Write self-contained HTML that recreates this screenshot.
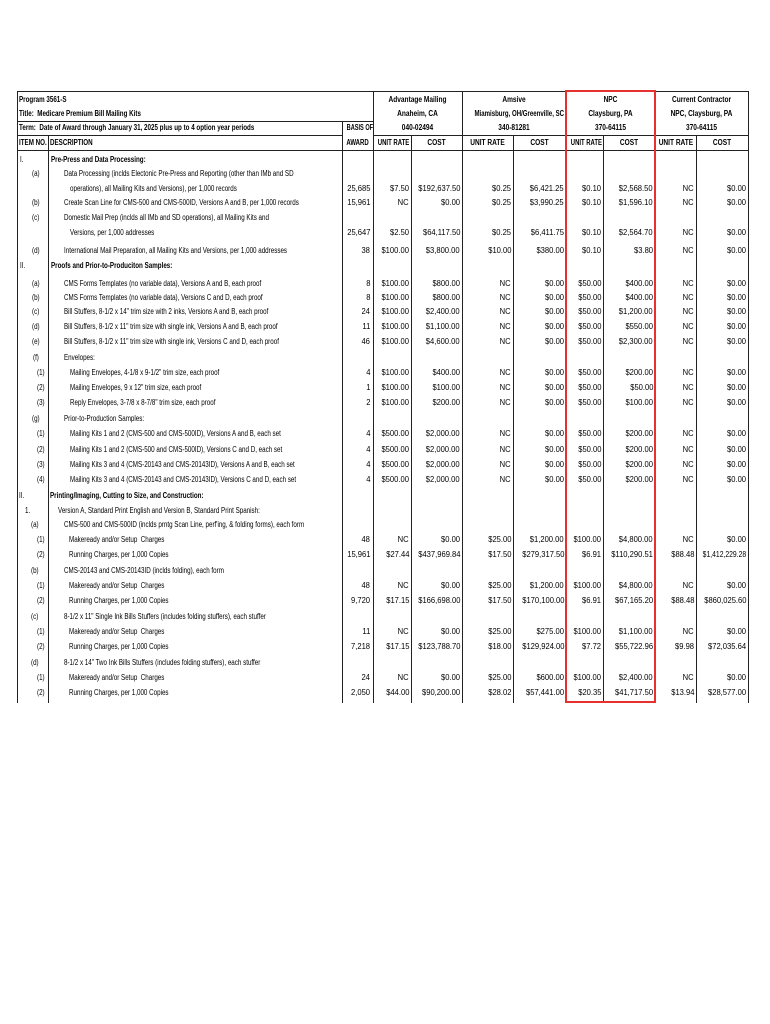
<!DOCTYPE html>
<html><head><meta charset="utf-8"><style>
body{margin:0;width:770px;height:1024px;background:#fff;position:relative;overflow:hidden}
.t{position:absolute;font-family:"Liberation Sans",sans-serif;font-size:8px;line-height:10px;white-space:nowrap;color:#000}
.l{transform:scaleX(.78);transform-origin:0 50%}
.r{transform:scaleX(.95);transform-origin:100% 50%;text-align:right}
.c{transform:scaleX(.82);transform-origin:50% 50%;text-align:center}
.b{font-weight:bold}
.h{position:absolute;height:1px;background:#222}
.v{position:absolute;width:1px;background:#222}
.red{position:absolute;border:2px solid #e8312f;box-sizing:border-box}
</style></head><body>
<div class="h" style="left:17px;top:91px;width:731px"></div>
<div class="h" style="left:17px;top:121px;width:356px"></div>
<div class="h" style="left:17px;top:135px;width:326px"></div>
<div class="h" style="left:373px;top:135px;width:375px"></div>
<div class="h" style="left:17px;top:150px;width:731px"></div>
<div class="v" style="left:17px;top:91px;height:612px"></div>
<div class="v" style="left:48px;top:135px;height:568px"></div>
<div class="v" style="left:342px;top:121px;height:582px"></div>
<div class="v" style="left:373px;top:91px;height:612px"></div>
<div class="v" style="left:411px;top:135px;height:568px"></div>
<div class="v" style="left:462px;top:91px;height:612px"></div>
<div class="v" style="left:513px;top:135px;height:568px"></div>
<div class="v" style="left:603px;top:135px;height:568px"></div>
<div class="v" style="left:696px;top:135px;height:568px"></div>
<div class="v" style="left:748px;top:91px;height:612px"></div>
<div class="red" style="left:565px;top:90px;width:91px;height:613px"></div>

<div class="t b l" style="left:19px;top:95px">Program 3561-S</div>
<div class="t b l" style="left:19px;top:109px">Title:&nbsp; Medicare Premium Bill Mailing Kits</div>
<div class="t b l" style="left:19px;top:123px">Term:&nbsp; Date of Award through January 31, 2025 plus up to 4 option year periods</div>
<div class="t b l" style="left:19px;top:138px">ITEM NO.</div>
<div class="t b l" style="left:50px;top:138px">DESCRIPTION</div>
<div class="t b c" style="left:342px;width:31px;top:123px;transform:scaleX(.7)">BASIS OF</div>
<div class="t b c" style="left:342px;width:31px;top:138px;transform:scaleX(.75)">AWARD</div>

<div class="t b c" style="left:373px;width:89px;top:95px">Advantage Mailing</div>
<div class="t b c" style="left:373px;width:89px;top:109px">Anaheim, CA</div>
<div class="t b c" style="left:373px;width:89px;top:123px">040-02494</div>
<div class="t b c" style="left:462px;width:104px;top:95px">Amsive</div>
<div class="t b c" style="left:462px;width:104px;top:109px;transform:scaleX(.76)">Miamisburg, OH/Greenville, SC</div>
<div class="t b c" style="left:462px;width:104px;top:123px">340-81281</div>
<div class="t b c" style="left:566px;width:89px;top:95px">NPC</div>
<div class="t b c" style="left:566px;width:89px;top:109px">Claysburg, PA</div>
<div class="t b c" style="left:566px;width:89px;top:123px">370-64115</div>
<div class="t b c" style="left:655px;width:93px;top:95px">Current Contractor</div>
<div class="t b c" style="left:655px;width:93px;top:109px">NPC, Claysburg, PA</div>
<div class="t b c" style="left:655px;width:93px;top:123px">370-64115</div>

<div class="t b c" style="left:373px;width:38px;top:138px;transform:scaleX(.75)">UNIT RATE</div>
<div class="t b c" style="left:411px;width:51px;top:138px">COST</div>
<div class="t b c" style="left:462px;width:51px;top:138px">UNIT RATE</div>
<div class="t b c" style="left:513px;width:53px;top:138px">COST</div>
<div class="t b c" style="left:566px;width:37px;top:138px;transform:scaleX(.74)">UNIT RATE</div>
<div class="t b c" style="left:603px;width:52px;top:138px">COST</div>
<div class="t b c" style="left:655px;width:41px;top:138px">UNIT RATE</div>
<div class="t b c" style="left:696px;width:52px;top:138px">COST</div>

<div class="t l" style="left:20px;top:155px">I.</div><div class="t b l" style="left:51px;top:155px">Pre-Press and Data Processing:</div>
<div class="t l" style="left:32px;top:169px">(a)</div><div class="t l" style="left:64px;top:169px">Data Processing (inclds Electonic Pre-Press and Reporting (other than IMb and SD</div>
<div class="t l" style="left:70px;top:184px">operations), all Mailing Kits and Versions), per 1,000 records</div>
<div class="t l" style="left:32px;top:198px">(b)</div><div class="t l" style="left:64px;top:198px">Create Scan Line for CMS-500 and CMS-500ID, Versions A and B, per 1,000 records</div>
<div class="t l" style="left:32px;top:213px">(c)</div><div class="t l" style="left:64px;top:213px">Domestic Mail Prep (inclds all IMb and SD operations), all Mailing Kits and</div>
<div class="t l" style="left:70px;top:228px">Versions, per 1,000 addresses</div>
<div class="t l" style="left:32px;top:246px">(d)</div><div class="t l" style="left:64px;top:246px">International Mail Preparation, all Mailing Kits and Versions, per 1,000 addresses</div>
<div class="t l" style="left:20px;top:261px">II.</div><div class="t b l" style="left:51px;top:261px">Proofs and Prior-to-Produciton Samples:</div>
<div class="t l" style="left:32px;top:279px">(a)</div><div class="t l" style="left:64px;top:279px">CMS Forms Templates (no variable data), Versions A and B, each proof</div>
<div class="t l" style="left:32px;top:293px">(b)</div><div class="t l" style="left:64px;top:293px">CMS Forms Templates (no variable data), Versions C and D, each proof</div>
<div class="t l" style="left:32px;top:307px">(c)</div><div class="t l" style="left:64px;top:307px">Bill Stuffers, 8-1/2 x 14" trim size with 2 inks, Versions A and B, each proof</div>
<div class="t l" style="left:32px;top:322px">(d)</div><div class="t l" style="left:64px;top:322px">Bill Stuffers, 8-1/2 x 11" trim size with single ink, Versions A and B, each proof</div>
<div class="t l" style="left:32px;top:337px">(e)</div><div class="t l" style="left:64px;top:337px">Bill Stuffers, 8-1/2 x 11" trim size with single ink, Versions C and D, each proof</div>
<div class="t l" style="left:33px;top:353px">(f)</div><div class="t l" style="left:64px;top:353px">Envelopes:</div>
<div class="t l" style="left:37px;top:368px">(1)</div><div class="t l" style="left:70px;top:368px">Mailing Envelopes, 4-1/8 x 9-1/2" trim size, each proof</div>
<div class="t l" style="left:37px;top:383px">(2)</div><div class="t l" style="left:70px;top:383px">Mailing Envelopes, 9 x 12" trim size, each proof</div>
<div class="t l" style="left:37px;top:398px">(3)</div><div class="t l" style="left:70px;top:398px">Reply Envelopes, 3-7/8 x 8-7/8" trim size, each proof</div>
<div class="t l" style="left:32px;top:414px">(g)</div><div class="t l" style="left:64px;top:414px">Prior-to-Production Samples:</div>
<div class="t l" style="left:37px;top:429px">(1)</div><div class="t l" style="left:70px;top:429px">Mailing Kits 1 and 2 (CMS-500 and CMS-500ID), Versions A and B, each set</div>
<div class="t l" style="left:37px;top:445px">(2)</div><div class="t l" style="left:70px;top:445px">Mailing Kits 1 and 2 (CMS-500 and CMS-500ID), Versions C and D, each set</div>
<div class="t l" style="left:37px;top:460px">(3)</div><div class="t l" style="left:70px;top:460px">Mailing Kits 3 and 4 (CMS-20143 and CMS-20143ID), Versions A and B, each set</div>
<div class="t l" style="left:37px;top:475px">(4)</div><div class="t l" style="left:70px;top:475px">Mailing Kits 3 and 4 (CMS-20143 and CMS-20143ID), Versions C and D, each set</div>
<div class="t l" style="left:19px;top:491px">II.</div><div class="t b l" style="left:50px;top:491px">Printing/Imaging, Cutting to Size, and Construction:</div>
<div class="t l" style="left:25px;top:506px">1.</div><div class="t l" style="left:58px;top:506px">Version A, Standard Print English and Version B, Standard Print Spanish:</div>
<div class="t l" style="left:31px;top:520px">(a)</div><div class="t l" style="left:64px;top:520px">CMS-500 and CMS-500ID (inclds prntg Scan Line, perf'ing, &amp; folding forms), each form</div>
<div class="t l" style="left:37px;top:535px">(1)</div><div class="t l" style="left:69px;top:535px">Makeready and/or Setup&nbsp; Charges</div>
<div class="t l" style="left:37px;top:550px">(2)</div><div class="t l" style="left:69px;top:550px">Running Charges, per 1,000 Copies</div>
<div class="t l" style="left:31px;top:566px">(b)</div><div class="t l" style="left:64px;top:566px">CMS-20143 and CMS-20143ID (inclds folding), each form</div>
<div class="t l" style="left:37px;top:581px">(1)</div><div class="t l" style="left:69px;top:581px">Makeready and/or Setup&nbsp; Charges</div>
<div class="t l" style="left:37px;top:596px">(2)</div><div class="t l" style="left:69px;top:596px">Running Charges, per 1,000 Copies</div>
<div class="t l" style="left:31px;top:612px">(c)</div><div class="t l" style="left:64px;top:612px">8-1/2 x 11" Single Ink Bills Stuffers (includes folding stuffers), each stuffer</div>
<div class="t l" style="left:37px;top:627px">(1)</div><div class="t l" style="left:69px;top:627px">Makeready and/or Setup&nbsp; Charges</div>
<div class="t l" style="left:37px;top:642px">(2)</div><div class="t l" style="left:69px;top:642px">Running Charges, per 1,000 Copies</div>
<div class="t l" style="left:31px;top:658px">(d)</div><div class="t l" style="left:64px;top:658px">8-1/2 x 14" Two Ink Bills Stuffers (includes folding stuffers), each stuffer</div>
<div class="t l" style="left:37px;top:673px">(1)</div><div class="t l" style="left:69px;top:673px">Makeready and/or Setup&nbsp; Charges</div>
<div class="t l" style="left:37px;top:688px">(2)</div><div class="t l" style="left:69px;top:688px">Running Charges, per 1,000 Copies</div>

<div style="position:absolute;left:0;top:184px;width:770px;height:10px">
<div class="t r" style="right:400px">25,685</div><div class="t r" style="right:361px">$7.50</div><div class="t r" style="right:310px">$192,637.50</div><div class="t r" style="right:259px">$0.25</div><div class="t r" style="right:206px">$6,421.25</div><div class="t r" style="right:169px">$0.10</div><div class="t r" style="right:117px">$2,568.50</div><div class="t r" style="right:76px">NC</div><div class="t r" style="right:24px">$0.00</div></div>
<div style="position:absolute;left:0;top:198px;width:770px;height:10px">
<div class="t r" style="right:400px">15,961</div><div class="t r" style="right:361px">NC</div><div class="t r" style="right:310px">$0.00</div><div class="t r" style="right:259px">$0.25</div><div class="t r" style="right:206px">$3,990.25</div><div class="t r" style="right:169px">$0.10</div><div class="t r" style="right:117px">$1,596.10</div><div class="t r" style="right:76px">NC</div><div class="t r" style="right:24px">$0.00</div></div>
<div style="position:absolute;left:0;top:228px;width:770px;height:10px">
<div class="t r" style="right:400px">25,647</div><div class="t r" style="right:361px">$2.50</div><div class="t r" style="right:310px">$64,117.50</div><div class="t r" style="right:259px">$0.25</div><div class="t r" style="right:206px">$6,411.75</div><div class="t r" style="right:169px">$0.10</div><div class="t r" style="right:117px">$2,564.70</div><div class="t r" style="right:76px">NC</div><div class="t r" style="right:24px">$0.00</div></div>
<div style="position:absolute;left:0;top:246px;width:770px;height:10px">
<div class="t r" style="right:400px">38</div><div class="t r" style="right:361px">$100.00</div><div class="t r" style="right:310px">$3,800.00</div><div class="t r" style="right:259px">$10.00</div><div class="t r" style="right:206px">$380.00</div><div class="t r" style="right:169px">$0.10</div><div class="t r" style="right:117px">$3.80</div><div class="t r" style="right:76px">NC</div><div class="t r" style="right:24px">$0.00</div></div>

<div style="position:absolute;left:0;top:279px;width:770px;height:10px">
<div class="t r" style="right:400px">8</div><div class="t r" style="right:361px">$100.00</div><div class="t r" style="right:310px">$800.00</div><div class="t r" style="right:259px">NC</div><div class="t r" style="right:206px">$0.00</div><div class="t r" style="right:169px">$50.00</div><div class="t r" style="right:117px">$400.00</div><div class="t r" style="right:76px">NC</div><div class="t r" style="right:24px">$0.00</div></div>
<div style="position:absolute;left:0;top:293px;width:770px;height:10px">
<div class="t r" style="right:400px">8</div><div class="t r" style="right:361px">$100.00</div><div class="t r" style="right:310px">$800.00</div><div class="t r" style="right:259px">NC</div><div class="t r" style="right:206px">$0.00</div><div class="t r" style="right:169px">$50.00</div><div class="t r" style="right:117px">$400.00</div><div class="t r" style="right:76px">NC</div><div class="t r" style="right:24px">$0.00</div></div>
<div style="position:absolute;left:0;top:307px;width:770px;height:10px">
<div class="t r" style="right:400px">24</div><div class="t r" style="right:361px">$100.00</div><div class="t r" style="right:310px">$2,400.00</div><div class="t r" style="right:259px">NC</div><div class="t r" style="right:206px">$0.00</div><div class="t r" style="right:169px">$50.00</div><div class="t r" style="right:117px">$1,200.00</div><div class="t r" style="right:76px">NC</div><div class="t r" style="right:24px">$0.00</div></div>
<div style="position:absolute;left:0;top:322px;width:770px;height:10px">
<div class="t r" style="right:400px">11</div><div class="t r" style="right:361px">$100.00</div><div class="t r" style="right:310px">$1,100.00</div><div class="t r" style="right:259px">NC</div><div class="t r" style="right:206px">$0.00</div><div class="t r" style="right:169px">$50.00</div><div class="t r" style="right:117px">$550.00</div><div class="t r" style="right:76px">NC</div><div class="t r" style="right:24px">$0.00</div></div>
<div style="position:absolute;left:0;top:337px;width:770px;height:10px">
<div class="t r" style="right:400px">46</div><div class="t r" style="right:361px">$100.00</div><div class="t r" style="right:310px">$4,600.00</div><div class="t r" style="right:259px">NC</div><div class="t r" style="right:206px">$0.00</div><div class="t r" style="right:169px">$50.00</div><div class="t r" style="right:117px">$2,300.00</div><div class="t r" style="right:76px">NC</div><div class="t r" style="right:24px">$0.00</div></div>

<div style="position:absolute;left:0;top:368px;width:770px;height:10px">
<div class="t r" style="right:400px">4</div><div class="t r" style="right:361px">$100.00</div><div class="t r" style="right:310px">$400.00</div><div class="t r" style="right:259px">NC</div><div class="t r" style="right:206px">$0.00</div><div class="t r" style="right:169px">$50.00</div><div class="t r" style="right:117px">$200.00</div><div class="t r" style="right:76px">NC</div><div class="t r" style="right:24px">$0.00</div></div>
<div style="position:absolute;left:0;top:383px;width:770px;height:10px">
<div class="t r" style="right:400px">1</div><div class="t r" style="right:361px">$100.00</div><div class="t r" style="right:310px">$100.00</div><div class="t r" style="right:259px">NC</div><div class="t r" style="right:206px">$0.00</div><div class="t r" style="right:169px">$50.00</div><div class="t r" style="right:117px">$50.00</div><div class="t r" style="right:76px">NC</div><div class="t r" style="right:24px">$0.00</div></div>
<div style="position:absolute;left:0;top:398px;width:770px;height:10px">
<div class="t r" style="right:400px">2</div><div class="t r" style="right:361px">$100.00</div><div class="t r" style="right:310px">$200.00</div><div class="t r" style="right:259px">NC</div><div class="t r" style="right:206px">$0.00</div><div class="t r" style="right:169px">$50.00</div><div class="t r" style="right:117px">$100.00</div><div class="t r" style="right:76px">NC</div><div class="t r" style="right:24px">$0.00</div></div>

<div style="position:absolute;left:0;top:429px;width:770px;height:10px">
<div class="t r" style="right:400px">4</div><div class="t r" style="right:361px">$500.00</div><div class="t r" style="right:310px">$2,000.00</div><div class="t r" style="right:259px">NC</div><div class="t r" style="right:206px">$0.00</div><div class="t r" style="right:169px">$50.00</div><div class="t r" style="right:117px">$200.00</div><div class="t r" style="right:76px">NC</div><div class="t r" style="right:24px">$0.00</div></div>
<div style="position:absolute;left:0;top:445px;width:770px;height:10px">
<div class="t r" style="right:400px">4</div><div class="t r" style="right:361px">$500.00</div><div class="t r" style="right:310px">$2,000.00</div><div class="t r" style="right:259px">NC</div><div class="t r" style="right:206px">$0.00</div><div class="t r" style="right:169px">$50.00</div><div class="t r" style="right:117px">$200.00</div><div class="t r" style="right:76px">NC</div><div class="t r" style="right:24px">$0.00</div></div>
<div style="position:absolute;left:0;top:460px;width:770px;height:10px">
<div class="t r" style="right:400px">4</div><div class="t r" style="right:361px">$500.00</div><div class="t r" style="right:310px">$2,000.00</div><div class="t r" style="right:259px">NC</div><div class="t r" style="right:206px">$0.00</div><div class="t r" style="right:169px">$50.00</div><div class="t r" style="right:117px">$200.00</div><div class="t r" style="right:76px">NC</div><div class="t r" style="right:24px">$0.00</div></div>
<div style="position:absolute;left:0;top:475px;width:770px;height:10px">
<div class="t r" style="right:400px">4</div><div class="t r" style="right:361px">$500.00</div><div class="t r" style="right:310px">$2,000.00</div><div class="t r" style="right:259px">NC</div><div class="t r" style="right:206px">$0.00</div><div class="t r" style="right:169px">$50.00</div><div class="t r" style="right:117px">$200.00</div><div class="t r" style="right:76px">NC</div><div class="t r" style="right:24px">$0.00</div></div>

<div style="position:absolute;left:0;top:535px;width:770px;height:10px">
<div class="t r" style="right:400px">48</div><div class="t r" style="right:361px">NC</div><div class="t r" style="right:310px">$0.00</div><div class="t r" style="right:259px">$25.00</div><div class="t r" style="right:206px">$1,200.00</div><div class="t r" style="right:169px">$100.00</div><div class="t r" style="right:117px">$4,800.00</div><div class="t r" style="right:76px">NC</div><div class="t r" style="right:24px">$0.00</div></div>
<div style="position:absolute;left:0;top:550px;width:770px;height:10px">
<div class="t r" style="right:400px">15,961</div><div class="t r" style="right:361px">$27.44</div><div class="t r" style="right:310px">$437,969.84</div><div class="t r" style="right:259px">$17.50</div><div class="t r" style="right:206px">$279,317.50</div><div class="t r" style="right:169px">$6.91</div><div class="t r" style="right:117px">$110,290.51</div><div class="t r" style="right:76px">$88.48</div><div class="t r" style="right:24px;transform:scaleX(.85)">$1,412,229.28</div></div>
<div style="position:absolute;left:0;top:581px;width:770px;height:10px">
<div class="t r" style="right:400px">48</div><div class="t r" style="right:361px">NC</div><div class="t r" style="right:310px">$0.00</div><div class="t r" style="right:259px">$25.00</div><div class="t r" style="right:206px">$1,200.00</div><div class="t r" style="right:169px">$100.00</div><div class="t r" style="right:117px">$4,800.00</div><div class="t r" style="right:76px">NC</div><div class="t r" style="right:24px">$0.00</div></div>
<div style="position:absolute;left:0;top:596px;width:770px;height:10px">
<div class="t r" style="right:400px">9,720</div><div class="t r" style="right:361px">$17.15</div><div class="t r" style="right:310px">$166,698.00</div><div class="t r" style="right:259px">$17.50</div><div class="t r" style="right:206px">$170,100.00</div><div class="t r" style="right:169px">$6.91</div><div class="t r" style="right:117px">$67,165.20</div><div class="t r" style="right:76px">$88.48</div><div class="t r" style="right:24px">$860,025.60</div></div>
<div style="position:absolute;left:0;top:627px;width:770px;height:10px">
<div class="t r" style="right:400px">11</div><div class="t r" style="right:361px">NC</div><div class="t r" style="right:310px">$0.00</div><div class="t r" style="right:259px">$25.00</div><div class="t r" style="right:206px">$275.00</div><div class="t r" style="right:169px">$100.00</div><div class="t r" style="right:117px">$1,100.00</div><div class="t r" style="right:76px">NC</div><div class="t r" style="right:24px">$0.00</div></div>
<div style="position:absolute;left:0;top:642px;width:770px;height:10px">
<div class="t r" style="right:400px">7,218</div><div class="t r" style="right:361px">$17.15</div><div class="t r" style="right:310px">$123,788.70</div><div class="t r" style="right:259px">$18.00</div><div class="t r" style="right:206px">$129,924.00</div><div class="t r" style="right:169px">$7.72</div><div class="t r" style="right:117px">$55,722.96</div><div class="t r" style="right:76px">$9.98</div><div class="t r" style="right:24px">$72,035.64</div></div>
<div style="position:absolute;left:0;top:673px;width:770px;height:10px">
<div class="t r" style="right:400px">24</div><div class="t r" style="right:361px">NC</div><div class="t r" style="right:310px">$0.00</div><div class="t r" style="right:259px">$25.00</div><div class="t r" style="right:206px">$600.00</div><div class="t r" style="right:169px">$100.00</div><div class="t r" style="right:117px">$2,400.00</div><div class="t r" style="right:76px">NC</div><div class="t r" style="right:24px">$0.00</div></div>
<div style="position:absolute;left:0;top:688px;width:770px;height:10px">
<div class="t r" style="right:400px">2,050</div><div class="t r" style="right:361px">$44.00</div><div class="t r" style="right:310px">$90,200.00</div><div class="t r" style="right:259px">$28.02</div><div class="t r" style="right:206px">$57,441.00</div><div class="t r" style="right:169px">$20.35</div><div class="t r" style="right:117px">$41,717.50</div><div class="t r" style="right:76px">$13.94</div><div class="t r" style="right:24px">$28,577.00</div></div>
</body></html>
